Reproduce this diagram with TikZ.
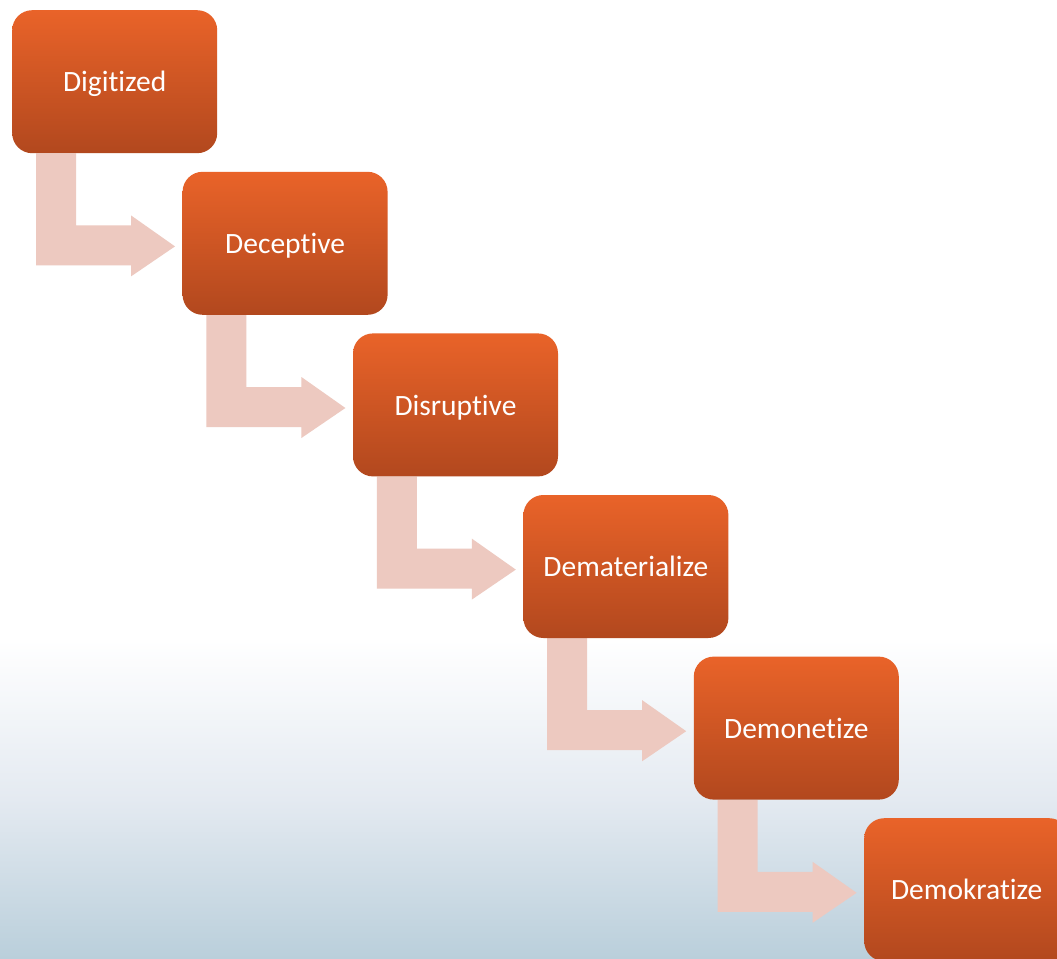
\documentclass[tikz,border=0pt]{standalone}
\usepackage{fontspec}
\setmainfont{Carlito}[Ligatures=NoCommon]
\usetikzlibrary{calc}
\definecolor{boxtop}{RGB}{233,99,41}
\definecolor{boxbot}{RGB}{178,72,30}
\definecolor{arrowfill}{RGB}{237,201,192}
\definecolor{bgbot}{RGB}{186,207,219}
\definecolor{bgmid}{RGB}{228,234,241}
\pgfdeclarelayer{bglayer}
\pgfdeclarelayer{arrowlayer}
\pgfsetlayers{bglayer,arrowlayer,main}
\tikzset{
  stepbox/.style={anchor=north west, minimum width=205pt, minimum height=143pt,
    rounded corners=20pt, top color=boxtop, bottom color=boxbot, draw=none,
    text=white, font=\fontsize{29.5}{34}\selectfont, inner sep=0pt,
    text depth=0pt, yshift=0pt},
  bentarrow/.style={fill=arrowfill, draw=none}
}
\newcommand{\bentarrow}[1]{%
  \fill[bentarrow] ($(#1.south west)+(24,0)$) -- ($(#1.south west)+(64,0)$)
   -- ($(#1.south west)+(64,72)$) -- ($(#1.south west)+(119,72)$)
   -- ($(#1.south west)+(119,62)$) -- ($(#1.south west)+(163,93)$)
   -- ($(#1.south west)+(119,123)$) -- ($(#1.south west)+(119,112)$)
   -- ($(#1.south west)+(24,112)$) -- cycle;}
\begin{document}
\begin{tikzpicture}[x=1pt,y=-1pt]
\useasboundingbox (0,0) rectangle (1057,958);
\clip (0,0) rectangle (1057,958);
\begin{pgfonlayer}{bglayer}
\fill[white] (0,0) rectangle (1057,641);
\shade[top color=white, bottom color=bgbot, middle color=bgmid] (0,640) rectangle (1057,958);
\end{pgfonlayer}
\node[stepbox] (b1) at (12,10) {Digitized};
\node[stepbox] (b2) at (182.4,171.6) {Deceptive};
\node[stepbox] (b3) at (352.8,333.2) {Disruptive};
\node[stepbox] (b4) at (523.2,494.8) {Dematerialize};
\node[stepbox] (b5) at (693.6,656.4) {Demonetize};
\node[stepbox] (b6) at (864,818) {Demokratize};
\begin{pgfonlayer}{arrowlayer}
\bentarrow{b1}
\bentarrow{b2}
\bentarrow{b3}
\bentarrow{b4}
\bentarrow{b5}
\end{pgfonlayer}
\end{tikzpicture}
\end{document}
